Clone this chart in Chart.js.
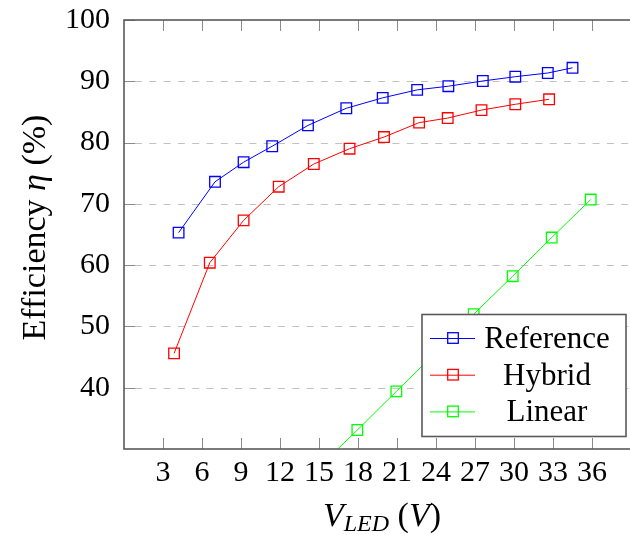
<!DOCTYPE html>
<html>
<head>
<meta charset="utf-8">
<script src="https://cdn.jsdelivr.net/npm/chart.js@4"></script>
<style>
  html, body { margin: 0; padding: 0; background: #fff; overflow: hidden; }
  #wrap { width: 630px; height: 535px; overflow: hidden; position: relative; }
  canvas { display: block; }
</style>
</head>
<body>
<div id="wrap"><canvas id="c" width="680" height="535"></canvas></div>
<script>
// Series names
const seriesNames = ['Reference', 'Hybrid', 'Linear'];

// Reference converter: LED voltage (V) and efficiency (%)
const refX = [4.2, 7.0, 9.2, 11.4, 14.15, 17.1, 19.9, 22.55, 24.95, 27.6, 30.1, 32.6, 34.5];
const refY = [65.3, 73.6, 76.8, 79.4, 82.8, 85.6, 87.3, 88.6, 89.2, 90.05, 90.75, 91.35, 92.2];

// Hybrid converter
const hybX = [3.85, 6.6, 9.2, 11.9, 14.6, 17.35, 20.0, 22.7, 24.9, 27.5, 30.1, 32.7];
const hybY = [45.6, 60.4, 67.3, 72.8, 76.5, 79.0, 80.9, 83.25, 84.0, 85.3, 86.25, 87.06];

// Linear regulator
const linX = [14.95, 17.95, 20.95, 23.95, 26.9, 29.9, 32.9, 35.9];
const linY = [26.9, 33.1, 39.4, 45.7, 52.0, 58.2, 64.5, 70.7];

// Axis ticks
const xTicks = [3, 6, 9, 12, 15, 18, 21, 24, 27, 30, 33, 36];
const yTicks = [40, 50, 60, 70, 80, 90, 100];

const colors = ['#0000ff', '#ff0000', '#00ff00'];
const FONT = '"Liberation Serif", "Times New Roman", serif';

const toPoints = (xs, ys) => xs.map((x, i) => ({ x: x, y: ys[i] }));

const makeSet = (label, xs, ys, color) => ({
  label: label,
  data: toPoints(xs, ys),
  showLine: true,
  borderColor: color,
  borderWidth: 1,
  pointStyle: 'rect',
  pointRadius: 7.5,
  pointHoverRadius: 7.5,
  pointBorderWidth: 1.3,
  pointBorderColor: color,
  pointBackgroundColor: 'rgba(0,0,0,0)',
  tension: 0
});

// Dashed horizontal grid behind the data
const dashedGrid = {
  id: 'dashedGrid',
  beforeDatasetsDraw(chart) {
    const { ctx, chartArea: a, scales: { y } } = chart;
    ctx.save();
    ctx.strokeStyle = '#c2c2c2';
    ctx.lineWidth = 1;
    ctx.setLineDash([7, 7.3]);
    ctx.beginPath();
    yTicks.forEach(v => {
      if (v >= y.max) return;
      const py = Math.round(y.getPixelForValue(v)) + 0.5;
      ctx.moveTo(a.left + 11, py);
      ctx.lineTo(a.right, py);
    });
    ctx.stroke();
    ctx.restore();
  }
};

// Axis box and inward tick marks
const frame = {
  id: 'frame',
  afterDatasetsDraw(chart) {
    const { ctx, chartArea: a, scales: { x, y } } = chart;
    const tl = 11;
    ctx.save();
    ctx.strokeStyle = '#8a8a8a';
    ctx.lineWidth = 1;
    ctx.beginPath();
    xTicks.forEach(v => {
      const px = Math.round(x.getPixelForValue(v)) + 0.5;
      ctx.moveTo(px, a.bottom); ctx.lineTo(px, a.bottom - tl);
      ctx.moveTo(px, a.top); ctx.lineTo(px, a.top + tl);
    });
    yTicks.forEach(v => {
      const py = Math.round(y.getPixelForValue(v)) + 0.5;
      ctx.moveTo(a.left, py); ctx.lineTo(a.left + tl, py);
      ctx.moveTo(a.right, py); ctx.lineTo(a.right - tl, py);
    });
    ctx.stroke();
    ctx.strokeStyle = '#5a5a5a';
    ctx.lineWidth = 1.6;
    ctx.strokeRect(a.left, a.top, a.right - a.left, a.bottom - a.top);
    ctx.restore();
  }
};

// Legend box in the lower right of the plot
const legendBox = {
  id: 'legendBox',
  afterDraw(chart) {
    const { ctx, chartArea: a } = chart;
    const right = a.right - 18, bottom = a.bottom - 12.5;
    const w = 204, h = 122;
    const left = right - w, top = bottom - h;
    ctx.save();
    ctx.fillStyle = '#fff';
    ctx.fillRect(left, top, w, h);
    ctx.strokeStyle = '#5a5a5a';
    ctx.lineWidth = 1.6;
    ctx.strokeRect(left, top, w, h);
    ctx.font = '31px ' + FONT;
    ctx.textAlign = 'center';
    ctx.textBaseline = 'alphabetic';
    chart.data.datasets.forEach((ds, i) => {
      const cy = top + 23.5 + i * 36.7;
      ctx.strokeStyle = ds.borderColor;
      ctx.lineWidth = 1;
      ctx.beginPath();
      ctx.moveTo(left + 8, cy + 0.5); ctx.lineTo(left + 53, cy + 0.5);
      ctx.stroke();
      ctx.lineWidth = 1.3;
      ctx.strokeRect(left + 31 - 5.3, cy - 5.3, 10.6, 10.6);
      ctx.fillStyle = '#000';
      ctx.fillText(ds.label, left + 125, cy + 10);
    });
    ctx.restore();
  }
};

// Draws a row of text runs centred horizontally on cx
function drawRuns(ctx, runs, cx, baseline) {
  let total = 0;
  runs.forEach(r => { ctx.font = r.font; r.w = ctx.measureText(r.t).width; total += r.w; });
  let x = cx - total / 2;
  runs.forEach(r => {
    ctx.font = r.font;
    ctx.fillText(r.t, x, baseline + (r.dy || 0));
    x += r.w;
  });
}

// Axis titles
const axisTitles = {
  id: 'axisTitles',
  afterDraw(chart) {
    const { ctx, chartArea: a } = chart;
    ctx.save();
    ctx.fillStyle = '#000';
    ctx.textAlign = 'left';
    ctx.textBaseline = 'alphabetic';
    const rom = '34px ' + FONT, ita = 'italic 34px ' + FONT, sub = 'italic 24px ' + FONT;
    drawRuns(ctx, [
      { t: 'V', font: ita },
      { t: 'LED', font: sub, dy: 5 },
      { t: ' (', font: rom },
      { t: 'V', font: ita },
      { t: ')', font: rom }
    ], (a.left + a.right) / 2 - 2, 526);
    ctx.translate(34, (a.top + a.bottom) / 2 - 7);
    ctx.rotate(-Math.PI / 2);
    drawRuns(ctx, [
      { t: 'Efficiency ', font: rom },
      { t: '\u03B7', font: ita },
      { t: ' (%)', font: rom }
    ], 0, 11);
    ctx.restore();
  }
};

new Chart(document.getElementById('c'), {
  type: 'scatter',
  data: {
    datasets: [
      makeSet(seriesNames[0], refX, refY, colors[0]),
      makeSet(seriesNames[1], hybX, hybY, colors[1]),
      makeSet(seriesNames[2], linX, linY, colors[2])
    ]
  },
  options: {
    responsive: false,
    devicePixelRatio: 1,
    animation: false,
    layout: { padding: { top: 20, right: 36, left: 0, bottom: 0 } },
    plugins: { legend: { display: false }, tooltip: { enabled: false } },
    scales: {
      x: {
        type: 'linear',
        min: 0,
        max: 40,
        afterBuildTicks: s => { s.ticks = xTicks.map(v => ({ value: v })); },
        afterFit: s => { s.height = 86; s.paddingLeft = 0; s.paddingRight = 0; },
        grid: { display: false, drawTicks: false },
        border: { display: false },
        ticks: { font: { family: FONT, size: 30 }, color: '#000', padding: 6, maxRotation: 0, autoSkip: false }
      },
      y: {
        type: 'linear',
        min: 30,
        max: 100,
        afterBuildTicks: s => { s.ticks = yTicks.map(v => ({ value: v })); },
        afterFit: s => { s.width = 124; s.paddingTop = 0; s.paddingBottom = 0; },
        grid: { display: false, drawTicks: false },
        border: { display: false },
        ticks: { font: { family: FONT, size: 30 }, color: '#000', padding: 14 }
      }
    }
  },
  plugins: [dashedGrid, frame, legendBox, axisTitles]
});
</script>
</body>
</html>
